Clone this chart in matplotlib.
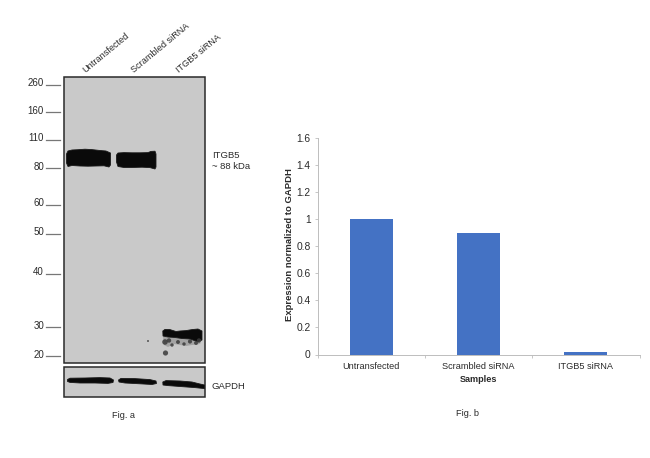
import matplotlib
matplotlib.use("Agg")
import matplotlib.pyplot as plt

plt.rcParams['font.family'] = ['Liberation Sans', 'DejaVu Sans']

# Bar chart data (Fig. b)
samples = ["Untransfected", "Scrambled siRNA", "ITGB5 siRNA"]
expression = [1.0, 0.9, 0.02]
y_ticks = [0, 0.2, 0.4, 0.6, 0.8, 1, 1.2, 1.4, 1.6]
y_labels = ["0", "0.2", "0.4", "0.6", "0.8", "1", "1.2", "1.4", "1.6"]

# Western blot data (Fig. a), read in image pixels
mw_labels = ["260", "160", "110", "80", "60", "50", "40", "30", "20"]
mw_y = [84.5, 112, 139.5, 168, 204.5, 233.5, 273.5, 327, 356]
lane_labels = ["Untransfected", "Scrambled siRNA", "ITGB5 siRNA"]
lane_label_x = [86.5, 135.5, 180.5]
lane_label_y = [75, 75, 75]

band1_x = [66.5, 68, 72, 78, 85, 92, 100, 106, 110.5, 110.5, 109, 104, 96, 88, 80, 72, 68, 66.5]
band1_y = [154, 151, 150, 149.7, 149.2, 149.6, 150.5, 151, 153, 165, 167, 165.8, 166, 166.2, 166, 165.5, 166.5, 163]
band2_x = [116.5, 118, 124, 132, 140, 148, 151, 155, 156, 156, 155, 150, 142, 132, 124, 118, 116.5]
band2_y = [155, 153, 152.6, 152.8, 152.8, 152.6, 151.4, 151.2, 154, 167, 169, 167.6, 167.2, 167.5, 167.5, 166.5, 162]
band3_x = [162.8, 165, 170, 176, 180, 186, 192, 198, 202, 202, 198, 190, 182, 175, 168, 163]
band3_y = [331, 329.4, 329.6, 331.5, 331, 330.6, 329.6, 329, 331, 340, 341.8, 339, 338.5, 337.5, 337, 336]
smear_x = [163, 168, 175, 182, 190, 198, 201, 198, 192, 186, 180, 174, 168, 164]
smear_y = [336, 337, 337.5, 338.5, 339, 341, 343, 344.5, 345, 346, 345, 344, 347, 345]
spots_x = [165.5, 148, 165, 169, 172, 178, 184, 190, 196, 199]
spots_y = [353, 341, 342, 340.5, 345, 342, 344, 341.5, 343, 340.5]
spot_sizes = [14, 2, 16, 10, 6, 8, 6, 9, 8, 10]

gapdh1_x = [67.5, 70, 85, 100, 110, 113.5, 113, 108, 95, 80, 70, 67.5]
gapdh1_y = [379.5, 378.2, 378, 377.6, 378, 380, 382.5, 383.4, 383, 383, 382.4, 381.5]
gapdh2_x = [118.5, 121, 135, 150, 156, 156.5, 152, 140, 125, 119]
gapdh2_y = [380, 378.4, 378.6, 379.6, 381, 383.5, 384.5, 383.8, 383, 382]
gapdh3_x = [162.8, 166, 180, 192, 200, 204.5, 204.5, 195, 180, 168, 163]
gapdh3_y = [382, 380.6, 381, 382, 384, 385, 388.6, 387.6, 386.5, 385.6, 385]

fig = plt.figure(figsize=(6.5, 4.58), dpi=100, facecolor="white")

# Pixel-coordinate layer for the blot and the free text
px = fig.add_axes([0, 0, 1, 1])
px.set_xlim(0, 650)
px.set_ylim(458, 0)
px.axis("off")

text_c = "#2b2b2b"
for (x0, x1, y0, y1) in [(64.3, 205, 77.3, 362.5), (64.3, 205, 366.5, 396.5)]:
    px.fill([x0, x1, x1, x0], [y0, y0, y1, y1], facecolor="#c9c9c9",
            edgecolor="#2a2a2a", linewidth=1.1, zorder=1)

for bx, by in [(band1_x, band1_y), (band2_x, band2_y), (band3_x, band3_y),
               (gapdh1_x, gapdh1_y), (gapdh2_x, gapdh2_y), (gapdh3_x, gapdh3_y)]:
    px.fill(bx, by, facecolor="#0a0a0a", edgecolor="#1a1a1a", linewidth=0.6, zorder=3)
px.fill(smear_x, smear_y, facecolor="#9a9a9a", edgecolor="none", alpha=0.8, zorder=2)
px.scatter(spots_x, spots_y, s=spot_sizes, color="#3a3a3a", alpha=0.85, linewidths=0, zorder=3)

for lab, y in zip(mw_labels, mw_y):
    px.plot([46, 60], [y, y], color="#777777", lw=0.9, zorder=2)
    px.text(44, y - 1.2, lab, ha="right", va="center", fontsize=7, color=text_c)

for lab, x, y in zip(lane_labels, lane_label_x, lane_label_y):
    px.text(x, y, lab, rotation=39.5, rotation_mode="anchor", ha="left", va="bottom",
            fontsize=6.6, color=text_c)

px.text(212, 155.5, "ITGB5", ha="left", va="center", fontsize=6.8, color=text_c)
px.text(212, 166.5, "~ 88 kDa", ha="left", va="center", fontsize=6.8, color=text_c)
px.text(212, 386.5, "GAPDH", ha="left", va="center", fontsize=6.8, color=text_c)
px.text(123.5, 416, "Fig. a", ha="center", va="center", fontsize=6.6, color=text_c)
px.text(468, 414, "Fig. b", ha="center", va="center", fontsize=6.6, color=text_c)

# Bar chart
W, H = 650.0, 458.0
left, right, top, bottom = 317.7, 639.5, 138.3, 354.5
ax = fig.add_axes([left / W, 1 - bottom / H, (right - left) / W, (bottom - top) / H])
ax.patch.set_alpha(0)
ax.bar(range(len(samples)), expression, width=0.4, color="#4472C4")
ax.set_xlim(-0.5, 2.5)
ax.set_ylim(0, 1.6)
ax.set_yticks(y_ticks)
ax.set_yticklabels(y_labels)
ax.set_xticks([-0.5, 0.5, 1.5, 2.5], minor=False)
ax.set_xticklabels([])
ax.set_xticks(range(len(samples)), minor=True)
ax.set_xticklabels(samples, minor=True)
ax.tick_params(axis="x", which="major", length=2.5, width=0.6, color="#bdbdbd", direction="out")
ax.tick_params(axis="x", which="minor", length=0, pad=5.5, labelsize=6.6, labelcolor=text_c)
ax.tick_params(axis="y", length=2.5, width=0.6, color="#bdbdbd", labelsize=7.4, pad=2.5, labelcolor=text_c)
for s in ["top", "right"]:
    ax.spines[s].set_visible(False)
for s in ["left", "bottom"]:
    ax.spines[s].set_color("#bdbdbd")
    ax.spines[s].set_linewidth(0.7)
px.text(290, 245, "Expression normalized to GAPDH", rotation=90, ha="center", va="center",
        fontsize=6.8, fontweight="bold", color=text_c)
px.text(478.5, 379, "Samples", ha="center", va="center", fontsize=6.6, fontweight="bold", color=text_c)

fig.savefig("out.png", dpi=100)
